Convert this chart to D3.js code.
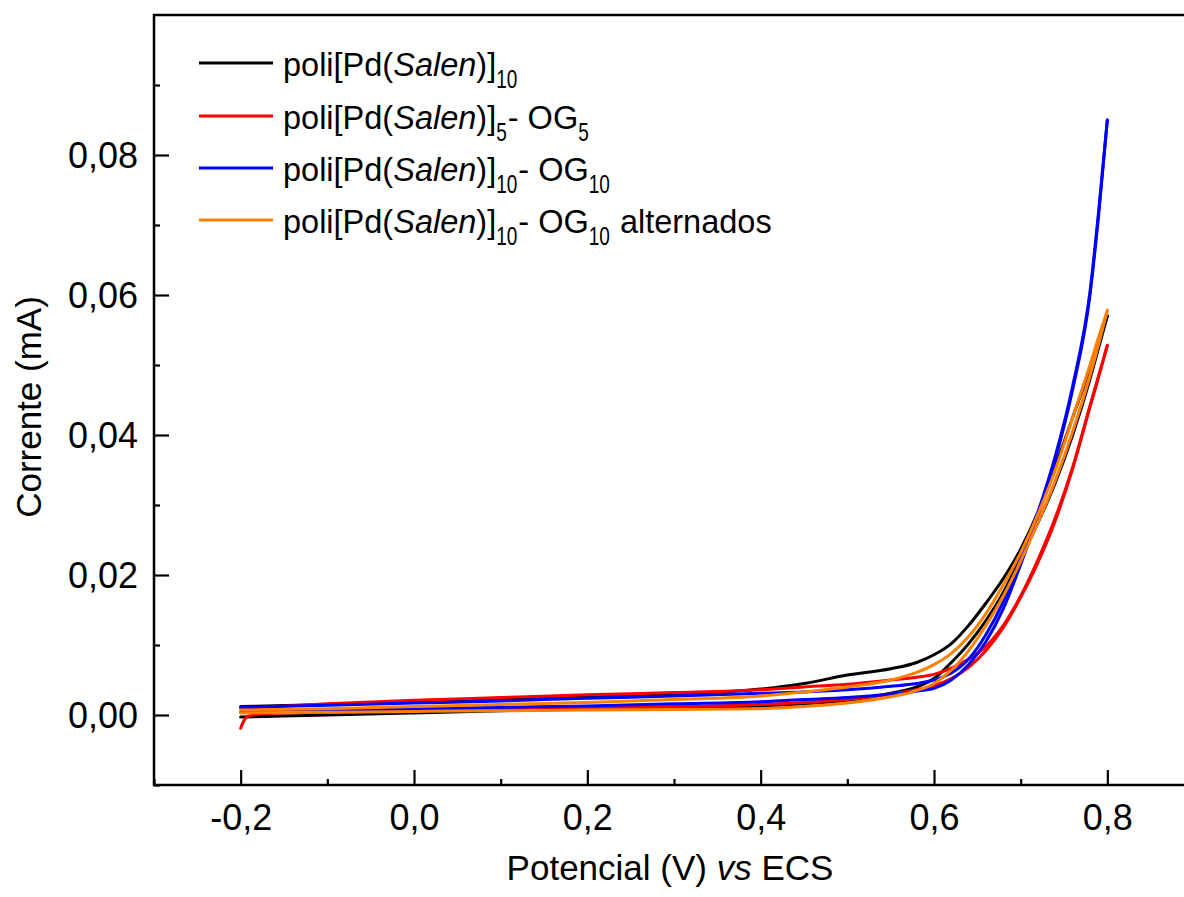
<!DOCTYPE html>
<html>
<head>
<meta charset="utf-8">
<script src="https://cdn.jsdelivr.net/npm/d3@7"></script>
<style>
  html, body { margin: 0; padding: 0; background: #fff; }
  svg { display: block; }
  text { font-family: "Liberation Sans", Arial, sans-serif; fill: #000; }
</style>
</head>
<body>
<svg id="chart" width="1184" height="897"></svg>
<script>
// ---------------- data ----------------
const xTicks = [-0.2, 0.0, 0.2, 0.4, 0.6, 0.8];
const yTicks = [0.00, 0.02, 0.04, 0.06, 0.08];
const xMinorTicks = [-0.3, -0.1, 0.1, 0.3, 0.5, 0.7, 0.9];
const yMinorTicks = [-0.01, 0.01, 0.03, 0.05, 0.07, 0.09];

const xTitle = ["Potencial (V) ", "vs", " ECS"];
const yTitle = "Corrente (mA)";

const seriesNames = ["poli[Pd(Salen)]10", "poli[Pd(Salen)]5- OG5", "poli[Pd(Salen)]10- OG10", "poli[Pd(Salen)]10- OG10 alternados"];
const seriesColors = ["#000000", "#ff0000", "#0000ff", "#ff7f00"];
// legend segments: n = normal, i = italic, s = subscript
const legendSegments = [
  [["poli[Pd(", "n"], ["Salen", "i"], [")]", "n"], ["10", "s"]],
  [["poli[Pd(", "n"], ["Salen", "i"], [")]", "n"], ["5", "s"], ["- OG", "n"], ["5", "s"]],
  [["poli[Pd(", "n"], ["Salen", "i"], [")]", "n"], ["10", "s"], ["- OG", "n"], ["10", "s"]],
  [["poli[Pd(", "n"], ["Salen", "i"], [")]", "n"], ["10", "s"], ["- OG", "n"], ["10", "s"], [" alternados", "n"]]
];

// common potential grid (V)
const potential = [-0.2, -0.1, 0.0, 0.1, 0.2, 0.3, 0.4, 0.45, 0.5, 0.55, 0.58, 0.6, 0.62, 0.64, 0.66, 0.68, 0.7, 0.72, 0.74, 0.76, 0.78, 0.79, 0.8];

// poli[Pd(Salen)]10 (black)
const blackFwd = [-0.0003, 0.0000, 0.0003, 0.0006, 0.0009, 0.0011, 0.0013, 0.0016, 0.0021, 0.0031, 0.0040, 0.0052, 0.0075, 0.0102, 0.0135, 0.0175, 0.0225, 0.0275, 0.0332, 0.0400, 0.0480, 0.0525, 0.0570];
const blackRev = [0.0012, 0.0015, 0.0019, 0.0022, 0.0026, 0.0030, 0.0037, 0.0045, 0.0057, 0.0066, 0.0075, 0.0086, 0.0102, 0.0128, 0.0160, 0.0195, 0.0237, 0.0290, 0.0355, 0.0425, 0.0495, 0.0532, 0.0570];

// poli[Pd(Salen)]5- OG5 (red) — forward scan starts with a short cathodic hook
const redFwdPotential = [-0.2, -0.197, -0.192, -0.17, -0.1, 0.0, 0.1, 0.2, 0.3, 0.4, 0.45, 0.5, 0.55, 0.58, 0.6, 0.62, 0.64, 0.66, 0.68, 0.7, 0.72, 0.74, 0.76, 0.78, 0.79, 0.8];
const redFwd = [-0.0019, -0.0010, -0.0002, 0.0002, 0.0004, 0.0006, 0.0008, 0.0010, 0.0012, 0.0015, 0.0018, 0.0022, 0.0030, 0.0036, 0.0042, 0.0052, 0.0068, 0.0092, 0.0125, 0.0168, 0.0218, 0.0278, 0.0352, 0.0440, 0.0483, 0.0528];
const redRev = [0.0009, 0.0016, 0.0021, 0.0025, 0.0029, 0.0032, 0.0036, 0.0040, 0.0044, 0.0050, 0.0054, 0.0058, 0.0067, 0.0080, 0.0098, 0.0128, 0.0170, 0.0222, 0.0282, 0.0354, 0.0442, 0.0485, 0.0528];

// poli[Pd(Salen)]10- OG10 (blue)
const blueFwd = [0.0004, 0.0007, 0.0009, 0.0011, 0.0013, 0.0016, 0.0019, 0.0022, 0.0025, 0.0030, 0.0034, 0.0038, 0.0050, 0.0072, 0.0105, 0.0152, 0.0215, 0.0285, 0.0365, 0.0465, 0.0600, 0.0715, 0.0850];
const blueRev = [0.0011, 0.0014, 0.0017, 0.0020, 0.0024, 0.0027, 0.0031, 0.0033, 0.0036, 0.0041, 0.0045, 0.0050, 0.0060, 0.0080, 0.0115, 0.0162, 0.0222, 0.0290, 0.0370, 0.0470, 0.0605, 0.0720, 0.0850];

// poli[Pd(Salen)]10- OG10 alternados (orange)
const orangeFwd = [0.0003, 0.0004, 0.0005, 0.0006, 0.0007, 0.0008, 0.0009, 0.0012, 0.0017, 0.0026, 0.0035, 0.0045, 0.0064, 0.0092, 0.0128, 0.0170, 0.0220, 0.0275, 0.0335, 0.0405, 0.0485, 0.0530, 0.0578];
const orangeRev = [0.0007, 0.0009, 0.0012, 0.0015, 0.0018, 0.0022, 0.0027, 0.0033, 0.0040, 0.0050, 0.0061, 0.0072, 0.0088, 0.0112, 0.0145, 0.0186, 0.0232, 0.0287, 0.0350, 0.0425, 0.0500, 0.0540, 0.0578];

// ---------------- chart ----------------
const svg = d3.select("#chart");
const pLeft = 154, pRight = 1194, pTop = 15, pBottom = 785;

const x = d3.scaleLinear().domain([-0.3, 0.9]).range([pLeft, pRight]);
const y = d3.scaleLinear().domain([-0.01, 0.1]).range([pBottom, pTop]);

const loc = d3.formatLocale({decimal: ",", thousands: ".", grouping: [3], currency: ["", ""], minus: "-"});
const fx = loc.format(".1f");
const fy = loc.format(".2f");

const zip = (xs, ys) => xs.map((v, i) => [v, ys[i]]);
const series = [
  {color: seriesColors[0], branches: [zip(potential, blackFwd), zip(potential, blackRev)]},
  {color: seriesColors[1], branches: [zip(redFwdPotential, redFwd), zip(potential, redRev)]},
  {color: seriesColors[2], branches: [zip(potential, blueFwd), zip(potential, blueRev)]},
  {color: seriesColors[3], branches: [zip(potential, orangeFwd), zip(potential, orangeRev)]}
];

const line = d3.line().x(d => x(d[0])).y(d => y(d[1])).curve(d3.curveMonotoneX);

const plot = svg.append("g");
series.forEach(s => {
  s.branches.forEach(b => {
    plot.append("path").datum(b)
      .attr("d", line)
      .attr("fill", "none")
      .attr("stroke", s.color)
      .attr("stroke-width", 3)
      .attr("stroke-linejoin", "round")
      .attr("stroke-linecap", "round");
  });
});

// frame
svg.append("rect")
  .attr("x", pLeft).attr("y", pTop)
  .attr("width", pRight - pLeft).attr("height", pBottom - pTop)
  .attr("fill", "none").attr("stroke", "#000").attr("stroke-width", 2.5);

// axes with inward ticks
const xAxis = svg.append("g").attr("transform", `translate(0,${pBottom})`)
  .call(d3.axisBottom(x).tickValues(xTicks).tickFormat(fx).tickSizeInner(-15).tickSizeOuter(0).tickPadding(30));
const xMinor = svg.append("g").attr("transform", `translate(0,${pBottom})`)
  .call(d3.axisBottom(x).tickValues(xMinorTicks).tickFormat("").tickSizeInner(-6).tickSizeOuter(0));

const yAxis = svg.append("g").attr("transform", `translate(${pLeft},0)`)
  .call(d3.axisLeft(y).tickValues(yTicks).tickFormat(fy).tickSizeInner(-15).tickSizeOuter(0).tickPadding(16));
const yMinor = svg.append("g").attr("transform", `translate(${pLeft},0)`)
  .call(d3.axisLeft(y).tickValues(yMinorTicks).tickFormat("").tickSizeInner(-6).tickSizeOuter(0));

[xAxis, xMinor, yAxis, yMinor].forEach(g => {
  g.select(".domain").remove();
  g.selectAll("line").attr("stroke", "#000").attr("stroke-width", 2.2);
});
xAxis.selectAll("text")
  .attr("font-family", "Liberation Sans, Arial, sans-serif")
  .attr("font-size", 36).attr("fill", "#000")
  .attr("dy", null).attr("y", 45);
yAxis.selectAll("text")
  .attr("font-family", "Liberation Sans, Arial, sans-serif")
  .attr("font-size", 36).attr("fill", "#000")
  .attr("dy", 12.5);

// axis titles
const xt = svg.append("text").attr("x", 670).attr("y", 880)
  .attr("text-anchor", "middle").attr("font-size", 35);
xt.append("tspan").text(xTitle[0]);
xt.append("tspan").attr("font-style", "italic").text(xTitle[1]);
xt.append("tspan").text(xTitle[2]);

svg.append("text")
  .attr("transform", "translate(41,407) rotate(-90)")
  .attr("text-anchor", "middle").attr("font-size", 35)
  .text(yTitle);

// legend
const legRowY = [63, 116, 168, 220];
const lg = svg.append("g");
legendSegments.forEach((segs, i) => {
  const ly = legRowY[i];
  lg.append("line").attr("x1", 199).attr("x2", 273).attr("y1", ly).attr("y2", ly)
    .attr("stroke", seriesColors[i]).attr("stroke-width", 3);
  let cx = 283;
  const base = ly + 13;
  segs.forEach(([txt, kind]) => {
    if (kind === "s") {
      const t = lg.append("text")
        .attr("transform", `translate(${cx},${base + 11.5}) scale(0.76,1)`)
        .attr("font-size", 25).style("white-space", "pre").text(txt);
      cx += t.node().getComputedTextLength() * 0.76 + 1;
    } else {
      const t = lg.append("text").attr("x", cx).attr("y", base)
        .attr("font-size", 32.5)
        .attr("font-style", kind === "i" ? "italic" : "normal")
        .style("white-space", "pre")
        .text(txt);
      cx += t.node().getComputedTextLength();
    }
  });
});
</script>
</body>
</html>
